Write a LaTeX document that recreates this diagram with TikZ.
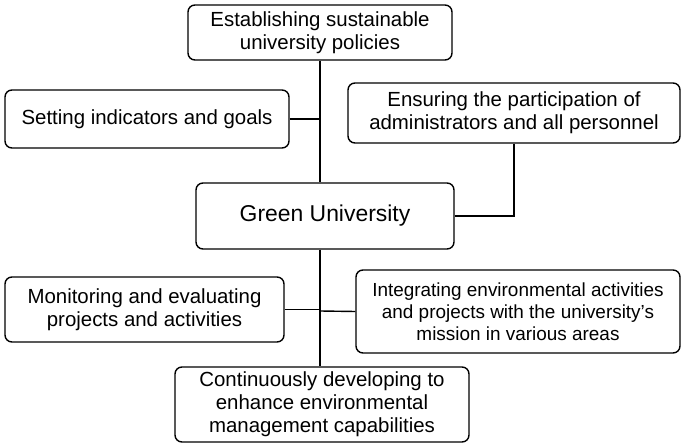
\documentclass[tikz,border=0pt]{standalone}
\usepackage{fontspec}
\setmainfont{Liberation Sans}
\usetikzlibrary{calc}
\begin{document}
\begin{tikzpicture}[
        x=1bp, y=-1bp,
        font=\fontsize{20.5}{23}\selectfont,
        box/.style={rectangle, rounded corners=7bp, draw, line width=1.4bp, align=center, inner sep=2pt},
        link/.style={line width=1.4bp}
    ]
        \useasboundingbox (0,0) rectangle (685,447);
        \node[box, minimum width=264bp, minimum height=55bp] (policy) at (320,32.5) {Establishing sustainable\\university policies};
        \node[box, minimum width=284bp, minimum height=58bp] (goals) at (147,119) {Setting indicators and goals};
        \node[box, minimum width=332bp, minimum height=60bp] (staff) at (514,113) {Ensuring the participation of\\administrators and all personnel};
        \node[box, minimum width=258bp, minimum height=66bp, font=\fontsize{23}{26}\selectfont] (green) at (325,216) {Green University};
        \node[box, minimum width=279bp, minimum height=65bp] (monitor) at (144.5,309.5) {Monitoring and evaluating\\projects and activities};
        \node[box, minimum width=324bp, minimum height=83bp, font=\fontsize{19}{22}\selectfont] (mission) at (518,311.5) {Integrating environmental activities\\and projects with the university's\\mission in various areas};
        \node[box, minimum width=294bp, minimum height=75bp] (develop) at (322,404.5) {Continuously developing to\\enhance environmental\\management capabilities};

        \coordinate (upper) at (320,119);
        \coordinate (lower) at (320,311);
        \draw[link] (policy.south -| upper) -- (green.north -| upper);
        \draw[link] (goals.east) -- (upper);
        \draw[link] (staff.south) -- (staff.south |- green.east) -- (green.east);
        \draw[link] (green.south -| lower) -- (develop.north -| lower);
        \draw[link] (monitor.east) -- (monitor.east -| lower);
        \draw[link] (mission.west) -- (lower);
    \end{tikzpicture}
\end{document}
